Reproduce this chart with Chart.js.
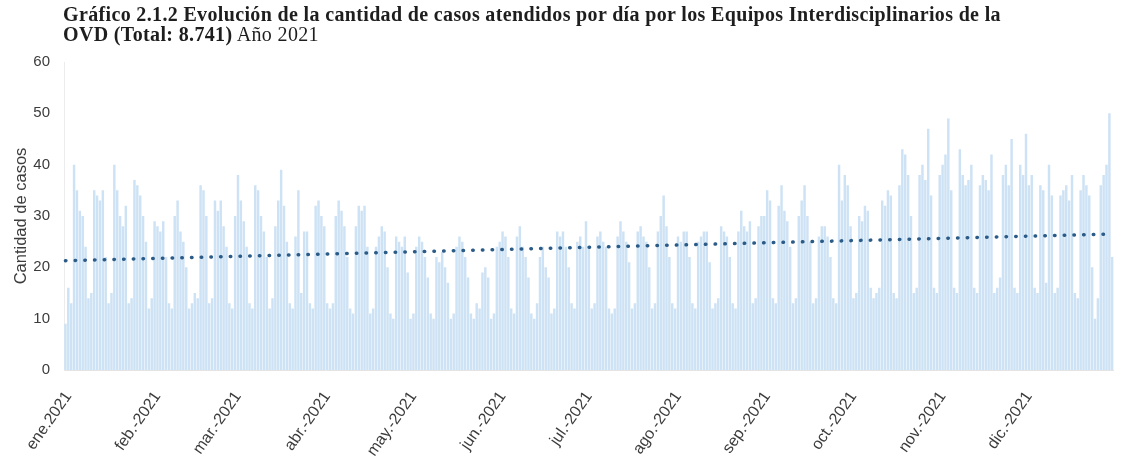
<!DOCTYPE html>
<html>
<head>
<meta charset="utf-8">
<script src="https://cdn.jsdelivr.net/npm/chart.js@4.4.1/dist/chart.umd.min.js"></script>
<style>
  body { margin: 0; background: #fff; }
  #wrap { position: relative; width: 1138px; height: 466px; }
  #myChart { position: absolute; left: 0; top: 0; }
  #titulo {
    position: absolute; left: 63px; top: 4px;
    font-family: "Liberation Serif", "Times New Roman", serif;
    font-size: 20px; line-height: 20px; letter-spacing: 0.35px; color: #1e1e1e;
  }
</style>
</head>
<body>
<div id="wrap">
  <canvas id="myChart" width="1138" height="466"></canvas>
  <div id="titulo"><b>Gráfico 2.1.2 Evolución de la cantidad de casos atendidos por día por los Equipos Interdisciplinarios de la</b><br><b>OVD (Total: 8.741)</b> Año 2021</div>
</div>
<script>
// casos atendidos por dia (aprox.)
const casosEne = [9, 16, 13, 40, 35, 31, 30, 24, 14, 15, 35, 34, 33, 35, 22, 13, 15, 40, 35, 30, 28, 32, 13, 14, 37, 36, 34, 30, 25, 12, 14];
const casosFeb = [29, 28, 27, 29, 22, 13, 12, 30, 33, 27, 25, 20, 12, 13, 15, 14, 36, 35, 30, 13, 14, 33, 31, 33, 28, 24, 13, 12];
const casosMar = [30, 38, 33, 29, 24, 13, 12, 36, 35, 30, 27, 22, 12, 14, 28, 33, 39, 32, 25, 13, 12, 26, 35, 15, 27, 27, 13, 12, 32, 33, 30];
const casosAbr = [28, 13, 12, 13, 30, 33, 31, 28, 22, 12, 11, 28, 32, 31, 32, 24, 11, 12, 24, 26, 28, 27, 20, 11, 10, 26, 25, 24, 26, 19];
const casosMay = [10, 11, 24, 26, 25, 22, 18, 11, 10, 22, 21, 23, 20, 17, 10, 11, 24, 26, 25, 22, 18, 11, 10, 13, 12, 19, 20, 18, 10, 11, 24];
const casosJun = [25, 27, 26, 22, 12, 11, 26, 28, 24, 22, 18, 11, 10, 13, 22, 24, 20, 18, 11, 12, 27, 26, 27, 24, 20, 13, 12, 25, 26, 24];
const casosJul = [29, 24, 12, 13, 26, 27, 25, 24, 12, 11, 12, 26, 29, 27, 25, 21, 12, 13, 27, 28, 26, 25, 20, 12, 13, 27, 30, 34, 28, 22, 13];
const casosAgo = [12, 26, 25, 27, 27, 22, 13, 12, 25, 26, 27, 27, 21, 12, 13, 14, 28, 27, 26, 22, 13, 12, 27, 31, 28, 27, 29, 13, 14, 28, 30];
const casosSep = [30, 35, 33, 14, 13, 32, 36, 31, 29, 24, 13, 14, 30, 33, 36, 30, 25, 13, 14, 26, 28, 28, 26, 22, 14, 13, 40, 33, 38, 36];
const casosOct = [28, 14, 15, 30, 29, 32, 31, 16, 14, 15, 16, 33, 32, 35, 34, 15, 14, 36, 43, 42, 38, 30, 15, 16, 38, 40, 37, 47, 34, 16, 15];
const casosNov = [38, 40, 42, 49, 35, 16, 15, 43, 38, 36, 37, 40, 16, 15, 36, 38, 37, 35, 42, 15, 16, 18, 38, 40, 36, 45, 16, 15, 40, 38];
const casosDic = [46, 36, 38, 16, 15, 36, 35, 17, 40, 34, 15, 16, 34, 35, 36, 33, 38, 15, 14, 35, 38, 36, 34, 20, 10, 14, 36, 38, 40, 50, 22];

const meses = ['ene.2021', 'feb.-2021', 'mar.-2021', 'abr.-2021', 'may.-2021', 'jun.-2021',
  'jul.-2021', 'ago.-2021', 'sep.-2021', 'oct.-2021', 'nov.-2021', 'dic.-2021'];
const ticksY = [0, 10, 20, 30, 40, 50, 60];

// linea de tendencia (lineal), extremos
const tendenciaInicio = 21.3;
const tendenciaFin = 26.5;

const porMes = [casosEne, casosFeb, casosMar, casosAbr, casosMay, casosJun,
  casosJul, casosAgo, casosSep, casosOct, casosNov, casosDic];
const casos = [].concat(...porMes);

// una etiqueta por dia, solo el primer dia de cada mes lleva texto
const labels = [];
porMes.forEach((m, i) => {
  m.forEach((v, d) => labels.push(d === 0 ? meses[i] : ''));
});

const tendencia = casos.map(() => null);
tendencia[0] = tendenciaInicio;
tendencia[tendencia.length - 1] = tendenciaFin;

Chart.defaults.font.family = '"Liberation Sans", Arial, sans-serif';
Chart.defaults.color = '#404040';

const ctx = document.getElementById('myChart');

const myChart = new Chart(ctx, {
  type: 'bar',
  data: {
    labels: labels,
    datasets: [
      {
        type: 'line',
        label: 'Lineal',
        data: tendencia,
        spanGaps: true,
        borderColor: '#2b5b87',
        borderWidth: 3.5,
        borderDash: [0.5, 9.2],
        borderCapStyle: 'round',
        pointRadius: 0,
        fill: false,
        order: 0
      },
      {
        label: 'Casos',
        data: casos,
        backgroundColor: '#cde2f4',
        barPercentage: 0.85,
        categoryPercentage: 1,
        order: 1
      }
    ]
  },
  options: {
    responsive: false,
    animation: false,
    layout: {
      padding: { top: 62, right: 3, left: 0, bottom: 0 }
    },
    plugins: {
      legend: { display: false },
      tooltip: { enabled: false }
    },
    scales: {
      x: {
        grid: { display: false },
        border: { display: true, color: '#e4e4e4' },
        ticks: {
          autoSkip: false,
          maxRotation: 55,
          minRotation: 55,
          padding: 10,
          labelOffset: 3,
          font: { size: 16 },
          color: '#3c3c3c'
        },
        afterFit: (s) => { s.height = 96; }
      },
      y: {
        min: 0,
        max: 60,
        grid: { display: false },
        border: { display: true, color: '#ececec' },
        afterBuildTicks: (s) => { s.ticks = ticksY.map(v => ({ value: v })); },
        ticks: {
          padding: 6,
          font: { size: 15 },
          color: '#3c3c3c'
        },
        title: {
          display: true,
          text: 'Cantidad de casos',
          font: { size: 16.5 },
          color: '#3c3c3c',
          padding: { top: 12, bottom: 0 }
        },
        afterFit: (s) => { s.width = 64; }
      }
    }
  }
});
</script>
</body>
</html>
